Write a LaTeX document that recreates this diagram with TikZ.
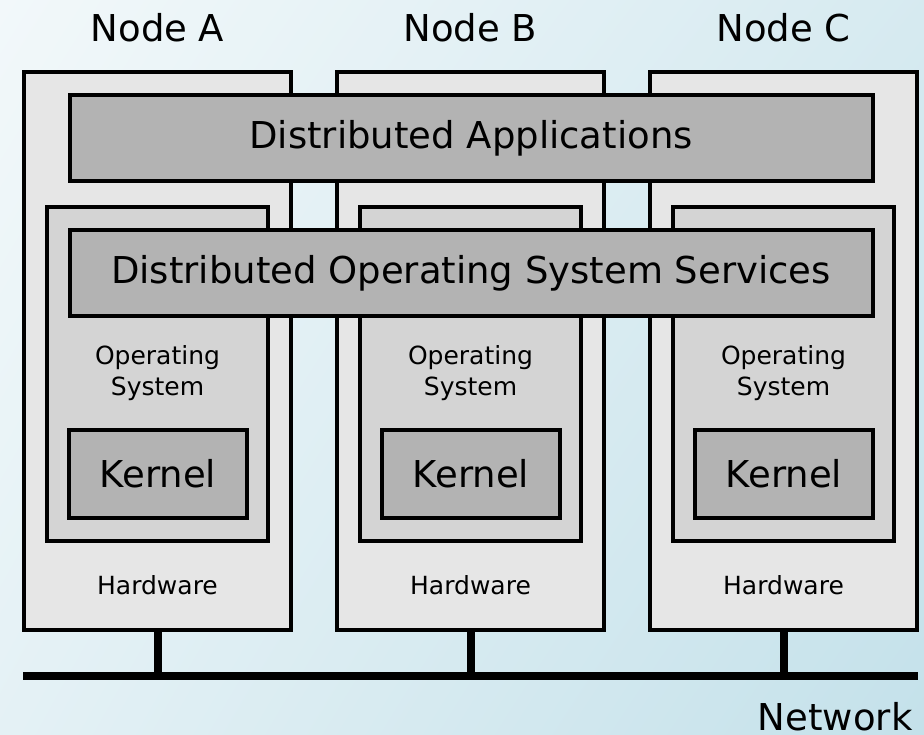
\documentclass[tikz,border=0pt]{standalone}
\usepackage{fontspec}
\setmainfont{DejaVu Sans}
\usetikzlibrary{shadings}
\definecolor{hwgray}{HTML}{E6E6E6}
\definecolor{osgray}{HTML}{D4D4D4}
\definecolor{boxgray}{HTML}{B3B3B3}
\definecolor{bgleft}{HTML}{F2F8FA}
\definecolor{bgright}{HTML}{C4E1EA}
\tikzset{
	hwbox/.style={draw, line width=4pt, fill=hwgray, inner sep=0pt, minimum width=267pt, minimum height=558pt},
	osbox/.style={draw, line width=4pt, fill=osgray, inner sep=0pt, minimum width=221pt, minimum height=334pt},
	bigbox/.style={draw, line width=4pt, fill=boxgray, inner sep=0pt, minimum width=803pt, minimum height=86pt, font=\fontsize{37}{40}\selectfont},
	kernbox/.style={draw, line width=4pt, fill=boxgray, inner sep=0pt, minimum width=178pt, minimum height=88pt, font=\fontsize{37}{40}\selectfont},
	biglbl/.style={font=\fontsize{37}{40}\selectfont},
	smalllbl/.style={font=\fontsize{25}{31}\selectfont, align=center}
}
\begin{document}
\begin{tikzpicture}[x=1pt, y=-1pt]
		
		% Hintergrund
		\shade[upper left=bgleft, lower left=bgleft!70!bgright, upper right=bgleft!40!bgright, lower right=bgright] (0,0) rectangle (924,735);
		\useasboundingbox (0,0) rectangle (924,735);
		
		% Rechner A, B, C
		\foreach \n/\x in {A/157.5, B/470.5, C/783.5} {
			\node[biglbl] (title\n) at (\x,28) {Node \n};
			\node[hwbox] (hw\n) at (\x,351) {};
			\node[osbox] (os\n) at (\x,374) {};
			\node[smalllbl] (oslbl\n) at (\x,373) {Operating\\System};
			\node[kernbox] (kern\n) at (\x+0.5,474) {Kernel};
			\node[smalllbl] (hwlbl\n) at (\x,585) {Hardware};
		}
		
		% Verteilte Schichten
		\node[bigbox] (apps) at (471,138) {Distributed Applications};
		\node[bigbox] (doss) at (471,273) {Distributed Operating System Services};
		
		% Netzwerk
		\coordinate (netL) at (23,676);
		\coordinate (netR) at (918,676);
		\draw[line width=8pt] (netL) -- (netR);
		\foreach \n in {A,B,C}
			\draw[line width=8pt] (hw\n.south) -- (hw\n.south |- netL);
		\node[biglbl, anchor=east] (netlbl) at (916,717) {Network};
		
\end{tikzpicture}
\end{document}
